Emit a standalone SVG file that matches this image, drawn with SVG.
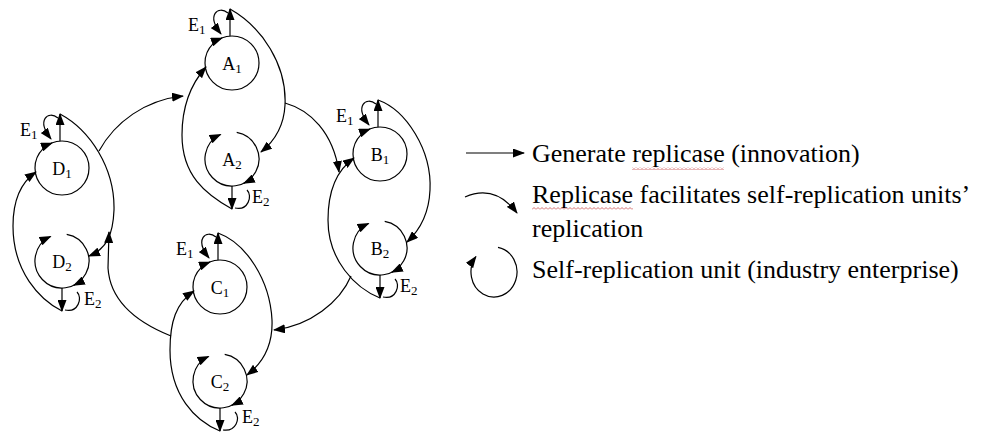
<svg xmlns="http://www.w3.org/2000/svg" width="992" height="432" viewBox="0 0 992 432">
<style>
.ln{fill:none;stroke:#000;stroke-width:1.2}
.ar{marker-end:url(#ah)}
text{font-family:"Liberation Serif","Times New Roman",serif;fill:#000}
.lbl{font-size:18px;text-anchor:middle}
.el{font-size:18px}
.leg{font-size:26px}
.sub{font-size:13px}
</style>
<defs>
<marker id="ah" markerUnits="userSpaceOnUse" viewBox="0 0 12 9" markerWidth="12" markerHeight="9" refX="11" refY="4.5" orient="auto">
<path d="M0,0 L12,4.5 L0,9 z" fill="#000"/>
</marker>
<pattern id="wave" width="4" height="3" patternUnits="userSpaceOnUse">
<path d="M0,2.5 L2,0.5 L4,2.5" fill="none" stroke="#c84848" stroke-width="0.8"/>
</pattern>
</defs>
<rect width="992" height="432" fill="#fff"/>

<g id="connectors">
<!-- intra-cluster loops -->
<path class="ln ar" d="M230,9 C262,27 287,65 285,105 C284,125 276,140 261,152"/>
<path class="ln ar" d="M232,209 C205,194 182,175 182,135 C182,108 190,85 206,67"/>
<path class="ln ar" d="M378,100 C406,110 432,150 430,190 C429,214 420,230 407,242"/>
<path class="ln ar" d="M380,298 C355,288 328,260 328,220 C328,194 334,172 354,158"/>
<path class="ln ar" d="M218,233 C246,243 270,280 272,320 C273,345 264,362 247,375"/>
<path class="ln ar" d="M220,431 C195,421 170,395 170,350 C170,322 176,303 194,291"/>
<path class="ln ar" d="M60,114 C90,130 115,168 114,210 C113,236 106,249 89,256"/>
<path class="ln ar" d="M62,311 C40,300 13,272 13,226 C13,200 20,183 36,172"/>
<!-- inter-cluster -->
<path class="ln ar" d="M99,151 C115,122 145,100 183,96"/>
<path class="ln ar" d="M285,103 C310,110 333,132 339,172"/>
<path class="ln ar" d="M351,276 C340,302 310,326 274,330"/>
<path class="ln ar" d="M171,336 C136,322 110,300 108,268 L109,232"/>
</g>

<g id="A1">
<circle class="ln" cx="232" cy="63" r="27"/>
<path class="ln ar" d="M216.9,40.6 A27,27 0 0 1 221.9,38"/>
<line class="ln ar" x1="230" y1="36" x2="230" y2="9"/>
<path class="ln ar" d="M228,13 C218,5 206,15 221,34"/>
<text class="lbl" x="232" y="70">A<tspan class="sub" dy="3">1</tspan></text>
<text class="el" x="188" y="31">E<tspan class="sub" dy="3">1</tspan></text>
</g>
<g id="A2">
<path class="ln ar" d="M236.7,132.4 A27,27 0 1 1 220.6,134.5"/>
<path class="ln ar" d="M249.4,179.7 A27,27 0 0 1 243.8,183.3"/>
<line class="ln ar" x1="232" y1="186" x2="232" y2="209"/>
<path class="ln" d="M235,208 C248,211 253,196 247,190"/>
<text class="lbl" x="232" y="166">A<tspan class="sub" dy="3">2</tspan></text>
<text class="el" x="252" y="203">E<tspan class="sub" dy="3">2</tspan></text>
</g>

<g id="B1">
<circle class="ln" cx="380" cy="154" r="27"/>
<path class="ln ar" d="M364.9,131.6 A27,27 0 0 1 369.9,129"/>
<line class="ln ar" x1="378" y1="127" x2="378" y2="100"/>
<path class="ln ar" d="M376,104 C366,96 354,106 369,125"/>
<text class="lbl" x="380" y="161">B<tspan class="sub" dy="3">1</tspan></text>
<text class="el" x="336" y="122">E<tspan class="sub" dy="3">1</tspan></text>
</g>
<g id="B2">
<path class="ln ar" d="M384.7,221.4 A27,27 0 1 1 368.6,223.5"/>
<path class="ln ar" d="M397.4,268.7 A27,27 0 0 1 391.8,272.3"/>
<line class="ln ar" x1="380" y1="275" x2="380" y2="298"/>
<path class="ln" d="M383,297 C396,300 401,285 395,279"/>
<text class="lbl" x="380" y="255">B<tspan class="sub" dy="3">2</tspan></text>
<text class="el" x="400" y="292">E<tspan class="sub" dy="3">2</tspan></text>
</g>

<g id="C1">
<circle class="ln" cx="220" cy="287" r="27"/>
<path class="ln ar" d="M204.9,264.6 A27,27 0 0 1 209.9,262"/>
<line class="ln ar" x1="218" y1="260" x2="218" y2="233"/>
<path class="ln ar" d="M216,237 C206,229 194,239 209,258"/>
<text class="lbl" x="220" y="294">C<tspan class="sub" dy="3">1</tspan></text>
<text class="el" x="176" y="255">E<tspan class="sub" dy="3">1</tspan></text>
</g>
<g id="C2">
<path class="ln ar" d="M224.7,354.4 A27,27 0 1 1 208.6,356.5"/>
<path class="ln ar" d="M237.4,401.7 A27,27 0 0 1 231.8,405.3"/>
<line class="ln ar" x1="220" y1="408" x2="220" y2="431"/>
<path class="ln" d="M223,430 C236,432 241,418 235,412"/>
<text class="lbl" x="220" y="388">C<tspan class="sub" dy="3">2</tspan></text>
<text class="el" x="242" y="423">E<tspan class="sub" dy="3">2</tspan></text>
</g>

<g id="D1">
<circle class="ln" cx="62" cy="168" r="27"/>
<path class="ln ar" d="M46.9,145.6 A27,27 0 0 1 51.9,143"/>
<line class="ln ar" x1="60" y1="141" x2="60" y2="114"/>
<path class="ln ar" d="M58,118 C48,110 36,120 51,139"/>
<text class="lbl" x="62" y="175">D<tspan class="sub" dy="3">1</tspan></text>
<text class="el" x="20" y="136">E<tspan class="sub" dy="3">1</tspan></text>
</g>
<g id="D2">
<path class="ln ar" d="M66.7,234.4 A27,27 0 1 1 50.6,236.5"/>
<path class="ln ar" d="M79.4,281.7 A27,27 0 0 1 73.8,285.3"/>
<line class="ln ar" x1="62" y1="288" x2="62" y2="311"/>
<path class="ln" d="M65,310 C78,313 83,298 77,292"/>
<text class="lbl" x="62" y="268">D<tspan class="sub" dy="3">2</tspan></text>
<text class="el" x="84" y="305">E<tspan class="sub" dy="3">2</tspan></text>
</g>

<g id="legend">
<line class="ln ar" x1="466" y1="153" x2="524" y2="153"/>
<path class="ln ar" d="M465,197 Q495,184 517,213"/>
<path class="ln ar" d="M498,247.4 A23,25 0 1 1 475.9,256.6"/>
<text class="leg" x="532" y="162">Generate replicase (innovation)</text>
<text class="leg" x="532" y="203">Replicase facilitates self-replication units’</text>
<text class="leg" x="532" y="237">replication</text>
<text class="leg" x="532" y="278">Self-replication unit (industry enterprise)</text>
<rect x="632" y="167" width="92" height="3" fill="url(#wave)"/>
<rect x="532" y="207" width="101" height="3" fill="url(#wave)"/>
</g>
</svg>
